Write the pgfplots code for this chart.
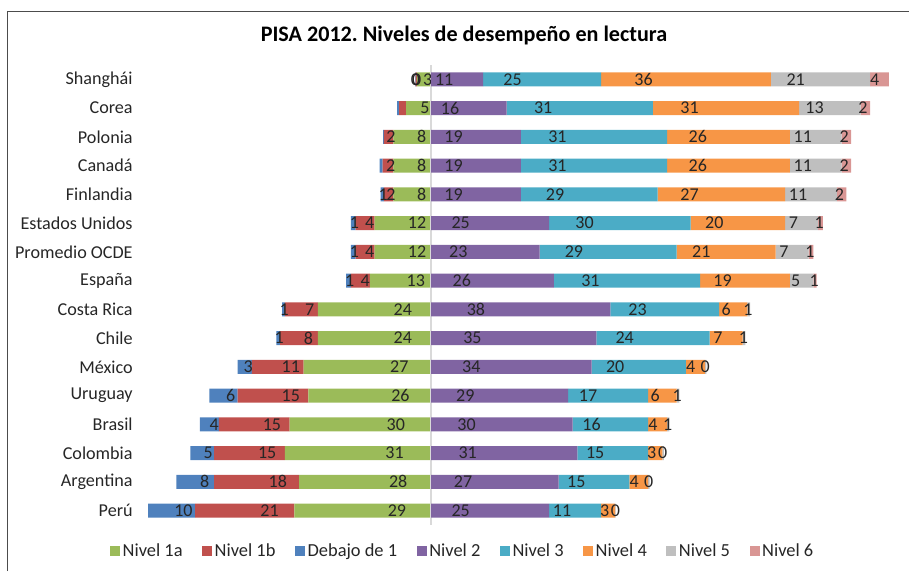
\documentclass[border=0pt]{standalone}
\usepackage{fontspec}
\setmainfont{Carlito}
\usepackage{pgfplots}
\usepackage{pgfplotstable}
\pgfplotsset{compat=1.18}

\definecolor{cA}{HTML}{9BBB59}
\definecolor{cB}{HTML}{C0504D}
\definecolor{cD}{HTML}{4F81BD}
\definecolor{c2}{HTML}{8064A2}
\definecolor{c3}{HTML}{4BACC6}
\definecolor{c4}{HTML}{F79646}
\definecolor{c5}{HTML}{BFBFBF}
\definecolor{c6}{HTML}{D99694}

% lado izquierdo: Nivel 1a, Nivel 1b, Debajo de 1 (negativos)
\pgfplotstableread{
y  a     al  b     bl  d     dl
0  -3    3   -0.3  0   -0.1  0
1  -5.3  5   -1.5  {}  -0.4  {}
2  -8    8   -2    2   -0.2  {}
3  -8    8   -2.3  2   -0.6  {}
4  -8    8   -2    2   -0.7  1
5  -12   12  -4    4   -1    1
6  -12   12  -4    4   -1    1
7  -13   13  -4    4   -1    1
8  -24   24  -7    7   -0.6  1
9  -24   24  -8    8   -0.8  1
10 -27   27  -11   11  -3    3
11 -26   26  -15   15  -6    6
12 -30   30  -15   15  -4    4
13 -31   31  -15   15  -5    5
14 -28   28  -18   18  -8    8
15 -29   29  -21   21  -10   10
}\lefttab

% lado derecho: Nivel 2 a Nivel 6
\pgfplotstableread{
y  n2  l2  n3  l3  n4  l4  n5   l5  n6   l6
0  11  11  25  25  36  36  21   21  4    4
1  16  16  31  31  31  31  13   13  2    2
2  19  19  31  31  26  26  11   11  2    2
3  19  19  31  31  26  26  11   11  2    2
4  19  19  29  29  27  27  11   11  2    2
5  25  25  30  30  20  20  7    7   1    1
6  23  23  29  29  21  21  7    7   1    1
7  26  26  31  31  19  19  5    5   0.7  1
8  38  38  23  23  6   6   0.6  1   0    0
9  35  35  24  24  7   7   0.6  1   0    0
10 34  34  20  20  4   4   0.3  0   0    0
11 29  29  17  17  6   6   0.6  1   0    0
12 30  30  16  16  4   4   0.5  1   0    0
13 31  31  15  15  3   3   0.3  0   0    0
14 27  27  15  15  4   4   0.3  0   0    0
15 25  25  11  11  3   3   0.1  0   0    0
}\righttab

\pgfplotsset{
  pisa/.style={
    xbar stacked,
    width=566.25pt, height=345pt, scale only axis,
    at={(105pt,-393.75pt)}, anchor=south west,
    xmin=-61.7, xmax=98.3, ymin=-0.5, ymax=15.5, y dir=reverse,
    bar width=10.5pt,
    axis line style={draw=none},
    xtick=\empty, major tick length=0pt,
    point meta=explicit symbolic,
    nodes near coords, nodes near coords align={center},
    every node near coord/.append style={font=\fontsize{13.5}{15}\selectfont,
      anchor=center, inner sep=0pt, text=black!85,
      xshift={-0.25*\segw*3.5390625pt}},
    clip=false,
  },
  seg/.style={visualization depends on={\thisrow{#1}\as\segw}},
  sq/.style={legend image code/.code={\fill[##1] (0pt,-3.75pt) rectangle (7.5pt,3.75pt);}},
}

\begin{document}
\begin{tikzpicture}
\path[use as bounding box] (0pt,0pt) rectangle (681.75pt,-428.25pt);
\draw[black!70, line width=1.2pt] (5.6pt,-428.25pt) -- (5.6pt,-8.6pt) -- (681.75pt,-8.6pt);
\node[font=\fontsize{16.6}{19}\selectfont\bfseries] at (348pt,-26.25pt)
  {PISA 2012.\ Niveles de desempeño en lectura};

\begin{axis}[pisa,
  ytick={0,...,15},
  yticklabels={Shanghái, Corea, Polonia, Canadá, Finlandia, Estados Unidos,
    Promedio OCDE, España, Costa Rica, Chile, México, Uruguay, Brasil,
    Colombia, Argentina, Perú},
  yticklabel style={font=\fontsize{13.6}{15}\selectfont, text=black!85, xshift=-2pt},
]
\draw[black!15, line width=1pt] (axis cs:0,-0.5) -- (axis cs:0,15.5);
\addplot[fill=cA, draw=none, seg=a] table[x=a, y=y, meta=al] {\lefttab};
\addplot[fill=cB, draw=none, seg=b] table[x=b, y=y, meta=bl] {\lefttab};
\addplot[fill=cD, draw=none, seg=d] table[x=d, y=y, meta=dl] {\lefttab};
\end{axis}

\begin{axis}[pisa,
  ytick=\empty,
  legend columns=8,
  legend style={draw=none, at={(0.4278,-0.0565)}, anchor=center,
    font=\fontsize{13.8}{15}\selectfont, text=black!85,
    /tikz/every even column/.append style={column sep=12.6pt}},
]
\addlegendimage{fill=cA, draw=none, sq}
\addlegendentry{Nivel 1a}
\addlegendimage{fill=cB, draw=none, sq}
\addlegendentry{Nivel 1b}
\addlegendimage{fill=cD, draw=none, sq}
\addlegendentry{Debajo de 1}
\addplot[fill=c2, draw=none, seg=n2, sq] table[x=n2, y=y, meta=l2] {\righttab};
\addlegendentry{Nivel 2}
\addplot[fill=c3, draw=none, seg=n3, sq] table[x=n3, y=y, meta=l3] {\righttab};
\addlegendentry{Nivel 3}
\addplot[fill=c4, draw=none, seg=n4, sq] table[x=n4, y=y, meta=l4] {\righttab};
\addlegendentry{Nivel 4}
\addplot[fill=c5, draw=none, seg=n5, sq] table[x=n5, y=y, meta=l5] {\righttab};
\addlegendentry{Nivel 5}
\addplot[fill=c6, draw=none, seg=n6, sq] table[x=n6, y=y, meta=l6] {\righttab};
\addlegendentry{Nivel 6}
\end{axis}
\end{tikzpicture}
\end{document}
